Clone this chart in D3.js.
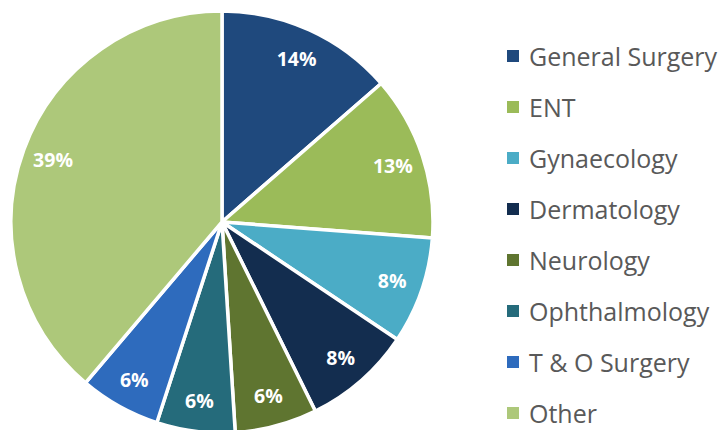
<!DOCTYPE html>
<html><head><meta charset="utf-8">
<script src="https://cdn.jsdelivr.net/npm/d3@7"></script>
<style>html,body{margin:0;padding:0;background:#fff;}svg{display:block;}</style>
</head><body>
<svg id="chart" width="724" height="430"></svg>
<script>
const categories = ["General Surgery","ENT","Gynaecology","Dermatology","Neurology","Ophthalmology","T & O Surgery","Other"];
const values = [13.6,12.6,8.2,8.3,6.3,6.0,6.2,38.8];
const colors = ["#1F497D","#9BBB59","#4BACC6","#132D4F","#5F7530","#256B7B","#2E6BBD","#ADC87A"];

const svg = d3.select("#chart");
const cx = 222, cy = 222, R = 211;
const total = d3.sum(values);
const data = categories.map((c,i)=>({name:c, value:values[i], color:colors[i]}));
const pie = d3.pie().value(d=>d.value).sort(null);
const arcs = pie(data);
const arc = d3.arc().innerRadius(0).outerRadius(R);
const labelArc = d3.arc().innerRadius(180).outerRadius(180);
const fmt = d3.format(".0%");

const g = svg.append("g").attr("transform",`translate(${cx},${cy})`);
g.selectAll("path").data(arcs).join("path")
  .attr("d",arc).attr("fill",d=>d.data.color)
  .attr("stroke","#fff").attr("stroke-width",3.5).attr("stroke-linejoin","round");
g.selectAll("text").data(arcs).join("text")
  .attr("transform",d=>`translate(${labelArc.centroid(d)})`)
  .attr("text-anchor","middle").attr("dominant-baseline","central")
  .attr("font-family","'Open Sans', sans-serif").attr("font-weight","bold")
  .attr("font-size",19.5).attr("fill","#fff")
  .text(d=>fmt(d.data.value/total));

const leg = svg.append("g");
const ly = d3.scalePoint().domain(categories).range([56,413]);
const items = leg.selectAll("g").data(data).join("g")
  .attr("transform",d=>`translate(507,${ly(d.name)})`);
items.append("rect").attr("x",0).attr("y",-6).attr("width",12).attr("height",12).attr("fill",d=>d.color);
items.append("text").attr("x",22).attr("y",0).attr("dominant-baseline","central")
  .attr("font-family","'Open Sans', sans-serif").attr("font-size",25).attr("fill","#595959")
  .text(d=>d.name);
</script>
</body></html>
